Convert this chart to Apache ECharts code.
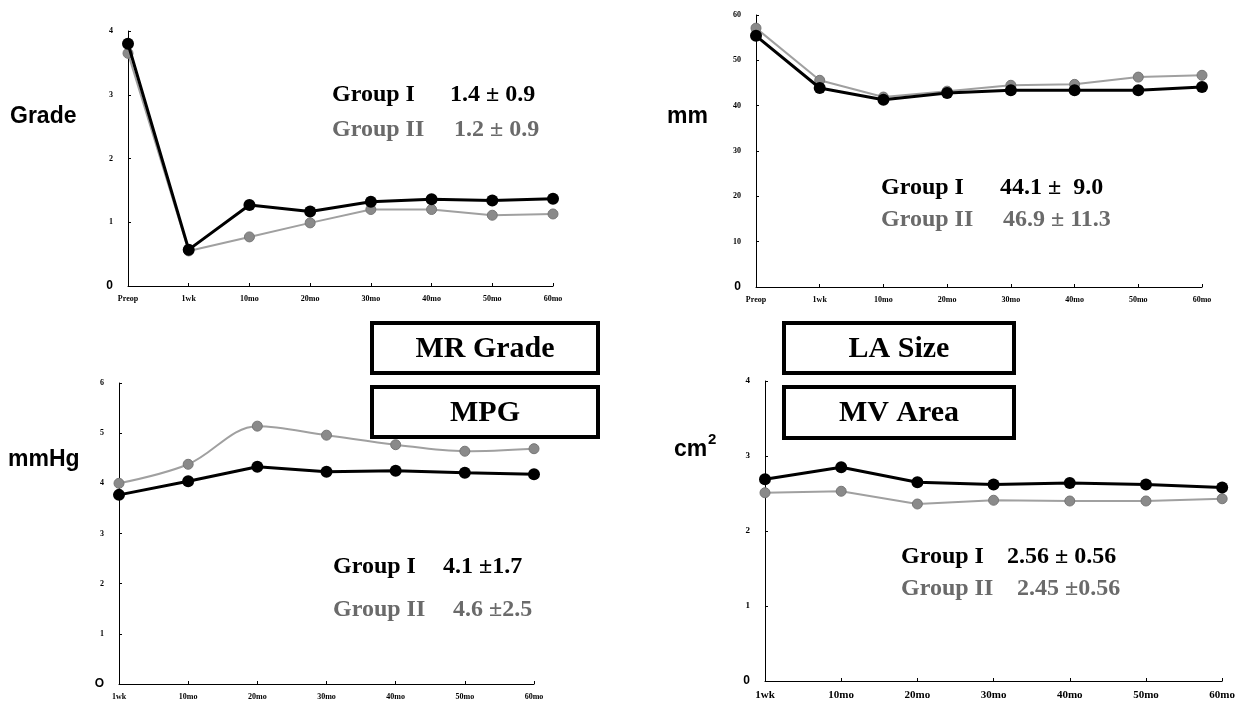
<!DOCTYPE html>
<html>
<head>
<meta charset="utf-8">
<script src="https://cdn.jsdelivr.net/npm/echarts@6/dist/echarts.min.js"></script>
<style>
html,body{margin:0;padding:0;background:#fff;}
#chart{width:1238px;height:705px;}
</style>
</head>
<body>
<div id="chart"></div>
<script>
// ---- data ----
const categoriesLong = ['Preop', '1wk', '10mo', '20mo', '30mo', '40mo', '50mo', '60mo'];
const categoriesShort = ['1wk', '10mo', '20mo', '30mo', '40mo', '50mo', '60mo'];

const mrGroup1 = [3.80, 0.57, 1.27, 1.17, 1.32, 1.36, 1.34, 1.37];
const mrGroup2 = [3.65, 0.55, 0.77, 0.99, 1.20, 1.20, 1.11, 1.13];

const laGroup1 = [55.4, 43.9, 41.3, 42.8, 43.4, 43.4, 43.4, 44.1];
const laGroup2 = [57.1, 45.6, 41.9, 43.2, 44.5, 44.7, 46.3, 46.7];

const mpgGroup1 = [3.77, 4.04, 4.33, 4.23, 4.25, 4.21, 4.18];
const mpgGroup2 = [4.00, 4.38, 5.14, 4.96, 4.77, 4.64, 4.69];

const mvaGroup1 = [2.69, 2.85, 2.65, 2.62, 2.64, 2.62, 2.58];
const mvaGroup2 = [2.51, 2.53, 2.36, 2.41, 2.40, 2.40, 2.43];

const yRanges = [
  {min: 0, max: 4, interval: 1},
  {min: 0, max: 60, interval: 10},
  {min: 0, max: 6, interval: 1},
  {min: 0, max: 4, interval: 1}
];
const unitLabels = ['Grade', 'mm', 'mmHg', 'cm'];
const unitSuper = ['', '', '', '2'];
const panelTitles = ['MR Grade', 'LA Size', 'MPG', 'MV Area'];
const statsGroup1 = ['1.4 ± 0.9', '44.1 ±  9.0', '4.1 ±1.7', '2.56 ± 0.56'];
const statsGroup2 = ['1.2 ± 0.9', '46.9 ± 11.3', '4.6 ±2.5', '2.45 ±0.56'];

// ---- layout ----
const grids = [
  {left: 128, right: 685, top: 31, bottom: 419},
  {left: 756, right: 36, top: 15, bottom: 418},
  {left: 119, right: 704, top: 383, bottom: 21},
  {left: 765, right: 14, top: 381, bottom: 24}
];
const serif = '"Liberation Serif", "Times New Roman", serif';
const sans = '"Liberation Sans", Arial, sans-serif';
const GRAY_LINE = '#a0a0a0';
const GRAY_DOT = '#8a8a8a';
const GRAY_TEXT = '#6a6a6a';

function xAxis(i, cats, fs) {
  return {
    type: 'category', gridIndex: i, data: cats, boundaryGap: false,
    axisLine: {lineStyle: {color: '#000', width: 1}},
    axisTick: {inside: true, length: 3, lineStyle: {color: '#000'}},
    axisLabel: {color: '#000', fontFamily: serif, fontWeight: 'bold', fontSize: fs, margin: 9},
    splitLine: {show: false}
  };
}
function yAxis(i, r, zeroStyle, fs) {
  return {
    type: 'value', gridIndex: i, min: r.min, max: r.max, interval: r.interval,
    axisLine: {show: true, lineStyle: {color: '#000', width: 1}},
    axisTick: {show: true, inside: true, length: 3, lineStyle: {color: '#000'}},
    splitLine: {show: false},
    axisLabel: {
      color: '#000', fontFamily: serif, fontWeight: 'bold', fontSize: fs, margin: 15,
      formatter: function (v) {
        if (v === 0) return '{z|' + zeroStyle + '}';
        return String(v);
      },
      rich: {z: {fontFamily: sans, fontWeight: 'bold', fontSize: 12, color: '#000'}}
    }
  };
}
function grayS(i, data, smooth) {
  return {
    type: 'line', xAxisIndex: i, yAxisIndex: i, data: data, smooth: smooth || false,
    symbol: 'circle', symbolSize: 10, z: 3,
    lineStyle: {color: GRAY_LINE, width: 2},
    itemStyle: {color: GRAY_DOT, borderColor: '#777', borderWidth: 1}
  };
}
function blackS(i, data) {
  return {
    type: 'line', xAxisIndex: i, yAxisIndex: i, data: data,
    symbol: 'circle', symbolSize: 12, z: 4,
    lineStyle: {color: '#000', width: 3},
    itemStyle: {color: '#000'}
  };
}

const graphic = [];
function txt(x, y, text, font, fill, align) {
  graphic.push({type: 'text', x: x, y: y, z: 100,
    style: {text: text, font: font, fill: fill, align: align || 'left', verticalAlign: 'middle'}});
}
function box(x, y, w, h, label) {
  graphic.push({type: 'rect', z: 100, shape: {x: x, y: y, width: w, height: h},
    style: {fill: '#fff', stroke: '#000', lineWidth: 4}});
  txt(x + w / 2, y + h / 2 + 1, label, 'bold 30px ' + serif, '#000', 'center');
}
// unit labels
const unitPos = [[10, 117], [667, 117], [8, 460], [674, 450]];
unitLabels.forEach(function (u, k) {
  txt(unitPos[k][0], unitPos[k][1], u, 'bold 23px ' + sans, '#000');
  if (unitSuper[k]) {
    txt(unitPos[k][0] + 34, unitPos[k][1] - 10, unitSuper[k], 'bold 15px ' + sans, '#000');
  }
});
// boxes
box(372, 323, 226, 50, panelTitles[0]);
box(784, 323, 230, 50, panelTitles[1]);
box(372, 387, 226, 50, panelTitles[2]);
box(784, 387, 230, 51, panelTitles[3]);
// stats
const statPos = [
  {x: 332, v1: 450, v2: 454, y1: 95, y2: 130},
  {x: 881, v1: 1000, v2: 1003, y1: 188, y2: 220},
  {x: 333, v1: 443, v2: 453, y1: 567, y2: 610},
  {x: 901, v1: 1007, v2: 1017, y1: 557, y2: 589}
];
statPos.forEach(function (p, k) {
  txt(p.x, p.y1, 'Group I', 'bold 24px ' + serif, '#000');
  txt(p.v1, p.y1, statsGroup1[k], 'bold 24px ' + serif, '#000');
  txt(p.x, p.y2, 'Group II', 'bold 24px ' + serif, GRAY_TEXT);
  txt(p.v2, p.y2, statsGroup2[k], 'bold 24px ' + serif, GRAY_TEXT);
});

const chart = echarts.init(document.getElementById('chart'), null, {renderer: 'canvas'});
chart.setOption({
  backgroundColor: '#fff',
  animation: false,
  grid: grids,
  xAxis: [xAxis(0, categoriesLong, 8), xAxis(1, categoriesLong, 8), xAxis(2, categoriesShort, 8), xAxis(3, categoriesShort, 11)],
  yAxis: [yAxis(0, yRanges[0], '0', 8), yAxis(1, yRanges[1], '0', 8), yAxis(2, yRanges[2], 'O', 8), yAxis(3, yRanges[3], '0', 9)],
  series: [
    grayS(0, mrGroup2), blackS(0, mrGroup1),
    grayS(1, laGroup2), blackS(1, laGroup1),
    grayS(2, mpgGroup2, 0.35), blackS(2, mpgGroup1),
    grayS(3, mvaGroup2), blackS(3, mvaGroup1)
  ],
  graphic: graphic
});
</script>
</body>
</html>
